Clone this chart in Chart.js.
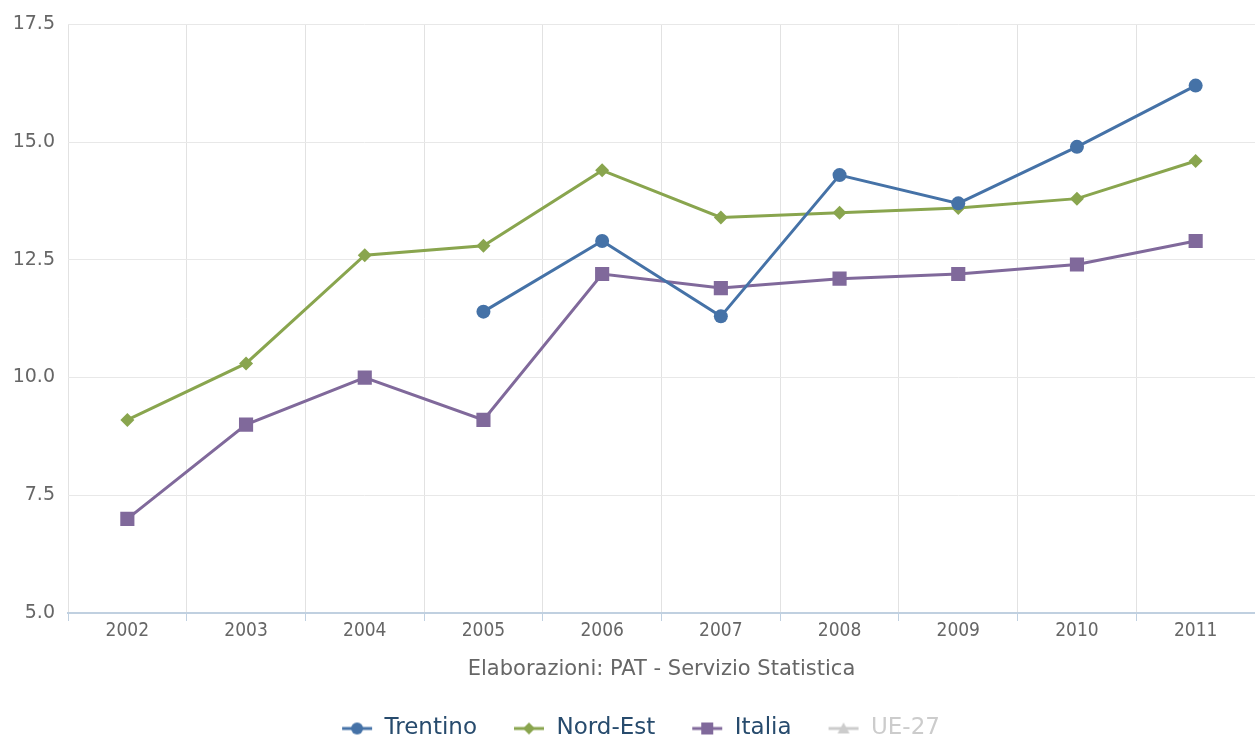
<!DOCTYPE html>
<html>
<head>
<meta charset="utf-8">
<script src="https://cdn.jsdelivr.net/npm/chart.js@4"></script>
<style>
  html, body { margin: 0; padding: 0; background: #fff; }
  #wrap { width: 1255px; height: 740px; }
</style>
</head>
<body>
<div id="wrap"><canvas id="chart" width="1255" height="740"></canvas></div>
<script>
// data
const years = ['2002', '2003', '2004', '2005', '2006', '2007', '2008', '2009', '2010', '2011'];
const trentino = [null, null, null, 11.4, 12.9, 11.3, 14.3, 13.7, 14.9, 16.2];
const nordEst = [9.1, 10.3, 12.6, 12.8, 14.4, 13.4, 13.5, 13.6, 13.8, 14.6];
const italia = [7.0, 9.0, 10.0, 9.1, 12.2, 11.9, 12.1, 12.2, 12.4, 12.9];
const ue27 = [null, null, null, null, null, null, null, null, null, null]; // hidden in the picture
const seriesNames = ['Trentino', 'Nord-Est', 'Italia', 'UE-27'];
const sourceNote = 'Elaborazioni: PAT - Servizio Statistica';

const COND = '"DejaVu Sans Condensed", "DejaVu Sans", Verdana, sans-serif';
const REG = '"DejaVu Sans", Verdana, sans-serif';
const COLORS = ['#4572A7', '#89A54E', '#80699B', '#cccccc'];
const STYLES = ['circle', 'rectRot', 'rect', 'triangle'];

// small line + marker icon for the legend
function legendIcon(color, style) {
    const c = document.createElement('canvas');
    c.width = 32; c.height = 16;
    const g = c.getContext('2d');
    g.strokeStyle = color;
    g.fillStyle = color;
    g.lineWidth = 3;
    g.beginPath(); g.moveTo(1, 8); g.lineTo(31, 8); g.stroke();
    g.beginPath();
    if (style === 'circle') {
        g.arc(16, 8, 6, 0, Math.PI * 2);
    } else if (style === 'rectRot') {
        g.moveTo(16, 2); g.lineTo(22, 8); g.lineTo(16, 14); g.lineTo(10, 8); g.closePath();
    } else if (style === 'rect') {
        g.rect(10, 2, 12, 12);
    } else {
        g.moveTo(16, 2); g.lineTo(22, 13); g.lineTo(10, 13); g.closePath();
    }
    g.fill();
    return c;
}

const allData = [trentino, nordEst, italia, ue27];
const radii = [7, 7, 10, 6];

const datasets = allData.map((d, i) => ({
    label: seriesNames[i],
    data: d,
    borderColor: COLORS[i],
    backgroundColor: COLORS[i],
    pointStyle: STYLES[i],
    pointRadius: radii[i],
    pointHoverRadius: radii[i],
    pointBorderWidth: 0,
    borderWidth: 3,
    fill: false,
    tension: 0,
    spanGaps: false,
    hidden: i === 3
}));

// nudge the legend a bit to the right, like the original
const legendShift = {
    id: 'legendShift',
    afterLayout(chart) {
        if (chart.legend) {
            chart.legend.left += 13;
            chart.legend.right += 13;
        }
    }
};

new Chart(document.getElementById('chart').getContext('2d'), {
    type: 'line',
    data: { labels: years, datasets: datasets },
    plugins: [legendShift],
    options: {
        responsive: false,
        animation: false,
        layout: { autoPadding: false, padding: { top: 21, right: 0, left: 0, bottom: -10 } },
        scales: {
            x: {
                offset: true,
                grid: {
                    offset: true,
                    color: '#e2e2e2',
                    tickColor: '#C0D0E0',
                    tickLength: 8
                },
                border: { display: true, color: '#C0D0E0', width: 2 },
                ticks: { color: '#666', font: { family: COND, size: 19 }, padding: -1 },
                title: {
                    display: true,
                    text: sourceNote,
                    color: '#666',
                    font: { family: REG, size: 21 },
                    padding: { top: 15, bottom: -1 }
                },
                afterFit: s => { s.paddingLeft = 0; s.paddingRight = 0; }
            },
            y: {
                min: 5,
                max: 17.5,
                grid: { color: '#e8e8e8', drawTicks: false },
                border: { display: false },
                ticks: {
                    stepSize: 2.5,
                    color: '#666',
                    padding: 13,
                    font: { family: REG, size: 19 },
                    callback: v => v.toFixed(1)
                },
                afterFit: s => { s.width = 68; }
            }
        },
        plugins: {
            tooltip: { enabled: false },
            legend: {
                position: 'bottom',
                onClick: null,
                labels: {
                    usePointStyle: true,
                    pointStyleWidth: 32,
                    padding: 36,
                    font: { family: REG, size: 23 },
                    color: '#274b6d',
                    generateLabels: chart => chart.data.datasets.map((ds, i) => ({
                        text: ds.label,
                        pointStyle: legendIcon(COLORS[i], STYLES[i]),
                        fillStyle: COLORS[i],
                        strokeStyle: COLORS[i],
                        lineWidth: 0,
                        hidden: false,
                        fontColor: i === 3 ? '#cccccc' : '#274b6d',
                        datasetIndex: i
                    }))
                }
            }
        }
    }
});
</script>
</body>
</html>
